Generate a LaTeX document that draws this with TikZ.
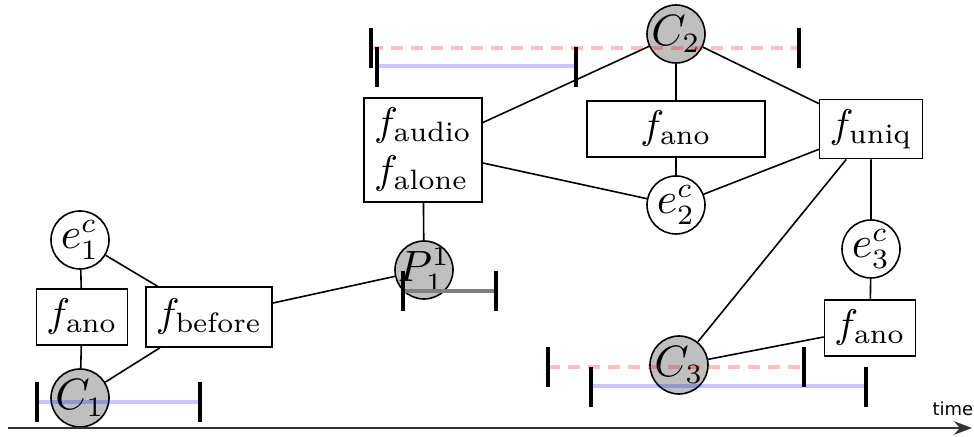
\documentclass[tikz,border=0pt]{standalone}
\usepackage{fontspec}
\setsansfont{DejaVu Sans}
\usetikzlibrary{arrows.meta}

\tikzset{
  var/.style={circle, draw, inner sep=-3pt, minimum size=14.5pt,
              font=\fontsize{10.5}{12}\selectfont},
  obs/.style={var, fill=gray!50},
  fac/.style={rectangle, draw, inner sep=2.5pt, minimum height=12.5pt},
  tickmark/.style={line width=1.2pt},
  blueint/.style={blue, opacity=0.22, line width=1pt},
  redint/.style={red, opacity=0.25, line width=1pt, dash pattern=on 3pt off 2pt},
}

\begin{document}
\begin{tikzpicture}[x=0.25pt, y=-0.25pt]
  \useasboundingbox (0,0) rectangle (974,437);

  % first call
  \node [var] (e1) at (80,240) {$e_1^c$};
  \node [fac] (fano1) at (82,317) {$f_{\mathrm{ano}}$};
  \node [fac, minimum height=15pt] (fbefore) at (209,317) {$f_{\mathrm{before}}$};
  \node [obs] (c1) at (80,398) {$C_1$};

  % second call
  \node [fac, align=left, minimum height=26pt] (faudio) at (423,150)
        {$f_{\mathrm{audio}}$\\$f_{\mathrm{alone}}$};
  \node [obs] (p1) at (424,270) {$P_1^1$};
  \node [obs] (c2) at (676,34) {$C_2$};
  \node [fac, minimum width=44.5pt, minimum height=14pt] (fano2) at (676,129) {$f_{\mathrm{ano}}$};
  \node [var] (e2) at (676,205) {$e_2^c$};

  % third call
  \node [fac, minimum height=14pt] (funiq) at (871,129) {$f_{\mathrm{uniq}}$};
  \node [var] (e3) at (871,249) {$e_3^c$};
  \node [fac, minimum height=13pt] (fano3) at (870,328) {$f_{\mathrm{ano}}$};
  \node [obs] (c3) at (679,365) {$C_3$};

  \draw (e1) -- (fano1) -- (c1);
  \draw (e1) -- (fbefore) -- (c1);
  \draw [thin] (fbefore) -- (p1);

  \draw (faudio) -- (c2);
  \draw (faudio) -- (e2);
  \draw (faudio) -- (p1);
  \draw (c2) -- (fano2) -- (e2);
  \draw (c2) -- (funiq) -- (e2);

  \draw (funiq) -- (c3);
  \draw (funiq) -- (e3) -- (fano3) -- (c3);

  % intervals
  \draw [blueint] (37,402) -- (200,402);
  \draw [tickmark] (37,382) -- (37,422);
  \draw [tickmark] (200,382) -- (200,422);

  \draw [gray, line width=1pt] (403,291) -- (496,291);
  \draw [tickmark] (403,271) -- (403,311);
  \draw [tickmark] (496,271) -- (496,311);

  \draw [redint] (371,48) -- (799,48);
  \draw [tickmark] (371,28) -- (371,68);
  \draw [tickmark] (799,28) -- (799,68);
  \draw [blueint] (377,66) -- (576,66);
  \draw [tickmark] (377,47) -- (377,87);
  \draw [tickmark] (576,47) -- (576,87);

  \draw [redint] (548,367) -- (804,367);
  \draw [tickmark] (548,347) -- (548,387);
  \draw [tickmark] (804,347) -- (804,387);
  \draw [blueint] (591,386) -- (866,386);
  \draw [tickmark] (591,367) -- (591,407);
  \draw [tickmark] (866,367) -- (866,407);

  % time axis
  \draw [black!80, line width=0.6pt, -{Stealth[length=4.5pt]}] (8,428) -- (972,428);
  \node [anchor=south east, inner sep=0pt, font=\sffamily\fontsize{4.5}{5}\selectfont]
        (time) at (974,417) {time};
\end{tikzpicture}
\end{document}
